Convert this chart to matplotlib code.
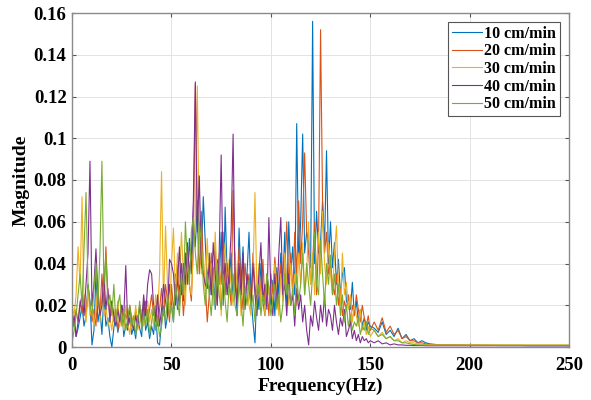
import numpy as np
import matplotlib.pyplot as plt

# frequency grid: 1 Hz up to 150 Hz, coarser in the flat tail
freq = np.concatenate([np.arange(0, 151, 1), np.arange(152, 181, 2), np.arange(185, 251, 5)])

labels = ["10 cm/min", "20 cm/min", "30 cm/min", "40 cm/min", "50 cm/min"]
colors = ["#0072BD", "#D95319", "#EDB120", "#7E2F8E", "#77AC30"]

# magnitudes, in units of 1e-3
mag_10 = [8, 12, 5, 9, 14, 20, 10, 15, 30, 22,
          1, 8, 35, 12, 18, 6, 25, 10, 14, 5,
          0, 9, 16, 7, 12, 20, 5, 11, 8, 14,
          6, 10, 4, 15, 9, 5, 22, 8, 12, 4,
          10, 6, 18, 2, 1, 12, 25, 9, 15, 30,
          20, 12, 35, 18, 28, 40, 22, 45, 30, 52,
          35, 60, 48, 70, 55, 40, 72, 50, 30, 45,
          25, 38, 18, 42, 30, 55, 20, 67, 35, 28,
          45, 22, 38, 15, 57, 30, 48, 20, 35, 55,
          25, 12, 2, 30, 18, 40, 22, 15, 35, 28,
          20, 32, 15, 38, 25, 45, 30, 55, 20, 60,
          35, 48, 25, 107, 40, 60, 102, 45, 55, 50,
          38, 156, 40, 65, 45, 50, 70, 48, 94, 40,
          60, 38, 50, 30, 42, 25, 35, 38, 22, 20,
          18, 31, 15, 22, 12, 18, 10, 14, 8, 12, 10,
          9, 7, 12, 6, 8, 5, 9, 4, 6, 3, 4, 2, 3, 2, 1.5,
          1, 1, 1, 0.8, 0.8, 0.8, 0.7, 0.7, 0.7, 0.6, 0.6, 0.6, 0.6, 0.6]

mag_20 = [15, 10, 18, 12, 22, 16, 25, 14, 28, 20,
          12, 18, 10, 28, 15, 35, 20, 48, 25, 15,
          22, 12, 18, 8, 15, 20, 10, 16, 12, 20,
          14, 8, 18, 12, 20, 10, 15, 22, 12, 18,
          25, 15, 20, 10, 18, 28, 15, 30, 22, 12,
          30, 18, 25, 40, 20, 32, 15, 28, 45, 30,
          22, 50, 126, 60, 35, 65, 40, 30, 12, 25,
          45, 28, 50, 20, 38, 30, 55, 25, 40, 30,
          20, 75, 35, 25, 48, 30, 18, 40, 28, 35,
          22, 45, 30, 18, 38, 25, 42, 20, 30, 15,
          35, 25, 43, 30, 18, 40, 25, 35, 60, 30,
          45, 25, 55, 35, 70, 40, 60, 93, 55, 45,
          30, 40, 60, 25, 50, 152, 70, 45, 55, 35,
          40, 30, 25, 35, 20, 28, 15, 22, 18, 25,
          12, 20, 15, 25, 18, 12, 20, 14, 10, 15, 8,
          12, 8, 14, 7, 10, 6, 8, 4, 5, 3, 3, 2, 2, 1.5, 1,
          1, 1, 0.9, 0.9, 0.9, 0.8, 0.8, 0.8, 0.8, 0.7, 0.7, 0.7, 0.7, 0.7]

mag_30 = [20, 15, 25, 48, 30, 72, 20, 12, 28, 15,
          22, 10, 18, 30, 12, 25, 15, 20, 10, 14,
          8, 18, 12, 22, 10, 15, 8, 20, 12, 6,
          15, 10, 20, 8, 12, 18, 10, 15, 22, 12,
          18, 10, 25, 15, 35, 84, 20, 58, 30, 15,
          40, 57, 25, 45, 30, 55, 35, 20, 48, 30,
          25, 45, 60, 125, 50, 35, 45, 25, 52, 30,
          40, 20, 55, 30, 45, 15, 38, 50, 25, 42,
          30, 20, 45, 28, 35, 15, 40, 25, 30, 20,
          15, 35, 74, 25, 40, 20, 30, 15, 35, 25,
          30, 20, 40, 28, 15, 35, 22, 45, 30, 20,
          40, 25, 35, 20, 45, 30, 50, 25, 35, 60,
          30, 45, 25, 40, 55, 35, 65, 40, 30, 50,
          35, 25, 45, 58, 30, 20, 45, 25, 31, 18,
          25, 12, 20, 15, 10, 18, 8, 12, 6, 10, 5,
          8, 5, 7, 4, 5, 3, 4, 2, 3, 2, 2, 1.5, 1.5, 1, 1,
          1, 1, 1, 1, 1, 1, 1, 1, 1, 1, 1, 1, 1, 1]

mag_40 = [10, 15, 5, 12, 20, 25, 15, 30, 45, 89,
          20, 30, 47, 25, 15, 20, 35, 18, 28, 12,
          22, 15, 10, 18, 12, 20, 15, 39, 10, 18,
          12, 8, 15, 10, 20, 12, 25, 15, 30, 37,
          35, 20, 12, 25, 10, 18, 30, 22, 15, 42,
          40, 35, 20, 30, 48, 25, 40, 30, 50, 35,
          45, 70, 127, 55, 82, 40, 35, 30, 28, 40,
          25, 50, 35, 20, 45, 92, 30, 40, 25, 35,
          55, 102, 30, 20, 40, 25, 45, 18, 35, 28,
          20, 40, 25, 15, 35, 50, 22, 30, 18, 62,
          25, 15, 35, 20, 45, 62, 25, 30, 15, 35,
          20, 25, 10, 28, 18, 25, 12, 20, 8, 1,
          15, 10, 22, 14, 8, 20, 12, 25, 10, 18,
          15, 8, 20, 12, 6, 14, 10, 18, 5, 8,
          12, 4, 8, 3, 6, 2, 5, 3, 4, 2, 3,
          2, 3, 1.5, 2, 1, 1.5, 1, 1, 0.8, 0.8, 0.7, 0.7, 0.7, 0.6, 0.6,
          0.6, 0.6, 0.6, 0.6, 0.6, 0.6, 0.6, 0.6, 0.6, 0.6, 0.6, 0.6, 0.6, 0.6]

mag_50 = [2, 8, 15, 25, 35, 20, 47, 74, 30, 20,
          15, 28, 40, 20, 45, 89, 30, 44, 20, 25,
          15, 30, 12, 20, 25, 10, 18, 8, 14, 20,
          10, 15, 6, 12, 22, 8, 15, 10, 18, 6,
          12, 20, 8, 15, 5, 10, 18, 12, 25, 15,
          20, 12, 30, 22, 15, 35, 25, 60, 40, 30,
          55, 62, 45, 35, 60, 50, 30, 20, 35, 25,
          15, 30, 20, 40, 25, 18, 35, 22, 12, 30,
          25, 35, 20, 15, 30, 22, 10, 28, 20, 32,
          18, 25, 12, 22, 30, 15, 25, 20, 35, 28,
          15, 22, 30, 18, 25, 12, 20, 35, 25, 30,
          20, 28, 15, 35, 22, 30, 45, 25, 40, 30,
          20, 35, 55, 30, 25, 51, 35, 20, 40, 30,
          44, 25, 35, 20, 30, 15, 25, 12, 20, 10,
          15, 8, 12, 10, 14, 6, 10, 8, 12, 6, 9,
          8, 5, 6, 4, 5, 3, 3, 2, 2, 1.5, 1.2, 1, 1, 0.9, 0.8,
          0.8, 0.8, 0.8, 0.8, 0.8, 0.8, 0.8, 0.8, 0.8, 0.8, 0.8, 0.8, 0.8, 0.8]

series = [mag_10, mag_20, mag_30, mag_40, mag_50]

plt.rcParams['font.family'] = ['Liberation Serif', 'DejaVu Serif']
plt.rcParams['font.weight'] = 'bold'

fig = plt.figure(figsize=(5.91, 4.0), dpi=100)
ax = fig.add_axes([0.122, 0.1325, 0.8408, 0.835])

for vals, lab, col in zip(series, labels, colors):
    ax.plot(freq, np.array(vals) * 1e-3, color=col, linewidth=0.8, label=lab)

ax.set_xlim(0, 250)
ax.set_ylim(0, 0.16)
ax.set_xticks([0, 50, 100, 150, 200, 250])
ax.set_yticks([0, 0.02, 0.04, 0.06, 0.08, 0.1, 0.12, 0.14, 0.16])
ax.set_yticklabels(["0", "0.02", "0.04", "0.06", "0.08", "0.1", "0.12", "0.14", "0.16"])
ax.tick_params(direction='in', top=True, right=True, labelsize=13.5, length=3,
               color='#555555', pad=4)
ax.tick_params(axis='x', pad=7)
for t in ax.get_xticklabels() + ax.get_yticklabels():
    t.set_fontweight('bold')
ax.grid(True, color='#e3e3e3', linewidth=0.7)
ax.set_axisbelow(True)
for sp in ax.spines.values():
    sp.set_color('#8a8a8a')
    sp.set_linewidth(1.0)

ax.set_xlabel("Frequency(Hz)", fontsize=14, fontweight='bold', labelpad=3)
ax.set_ylabel("Magnitude", fontsize=14, fontweight='bold', labelpad=3)

leg = ax.legend(loc='upper right', frameon=True, fancybox=False,
                handlelength=1.9, handletextpad=0.15, borderpad=0.25, labelspacing=0.1,
                borderaxespad=0.55, prop={'weight': 'bold', 'size': 11.5})
leg.get_frame().set_edgecolor('#555555')
leg.get_frame().set_linewidth(0.8)
leg.get_frame().set_alpha(1.0)

fig.savefig("out.png", dpi=100)
